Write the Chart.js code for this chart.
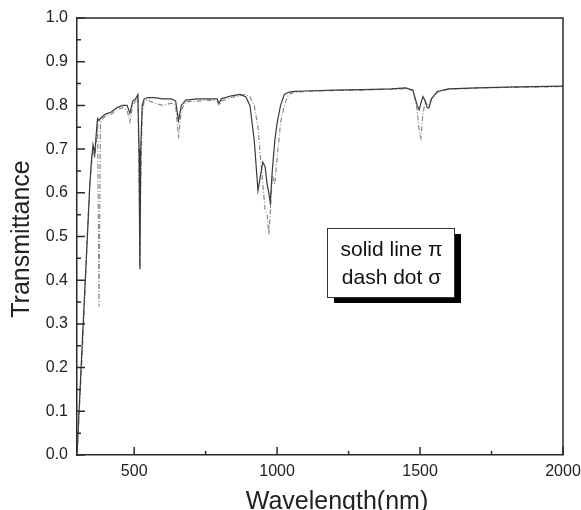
<!DOCTYPE html>
<html>
<head>
<meta charset="utf-8">
<script src="https://cdn.jsdelivr.net/npm/chart.js@4.4.1/dist/chart.umd.min.js"></script>
<style>
  html, body { margin: 0; padding: 0; background: #fff; }
  #wrap { width: 581px; height: 510px; }
</style>
</head>
<body>
<div id="wrap"><canvas id="chart"></canvas></div>
<script>
// 波長 (nm)
const wavelength = [300, 320, 340, 345, 350, 356, 362, 368, 372, 377, 382, 390, 400, 420, 440, 460, 475, 485, 495, 505,
  513, 517, 520, 523, 528, 535, 548, 570, 600, 630, 645, 655, 665, 680, 720, 760, 790, 797, 805, 840,
  870, 890, 905, 920, 933, 942, 950, 958, 965, 971, 976, 983, 992, 1000, 1012, 1025, 1040, 1060, 1100, 1200,
  1300, 1400, 1450, 1475, 1490, 1497, 1503, 1510, 1518, 1525, 1531, 1540, 1560, 1600, 1700, 1800, 1900, 2000];

// solid line (π)
const piT = [0.0, 0.28, 0.55, 0.62, 0.67, 0.71, 0.69, 0.74, 0.77, 0.765, 0.77, 0.775, 0.78, 0.785, 0.795, 0.80, 0.80, 0.782, 0.81, 0.815,
  0.825, 0.70, 0.425, 0.70, 0.80, 0.815, 0.818, 0.818, 0.815, 0.815, 0.81, 0.765, 0.80, 0.812, 0.815, 0.815, 0.815, 0.805, 0.815, 0.822,
  0.825, 0.82, 0.80, 0.72, 0.605, 0.64, 0.67, 0.66, 0.62, 0.60, 0.577, 0.65, 0.72, 0.76, 0.80, 0.825, 0.83, 0.832, 0.833, 0.835,
  0.836, 0.838, 0.84, 0.835, 0.80, 0.79, 0.805, 0.82, 0.81, 0.795, 0.794, 0.815, 0.832, 0.838, 0.84, 0.842, 0.843, 0.844];

// dash dot (σ)
const sigmaT = [0.0, 0.25, 0.56, 0.62, 0.66, 0.70, 0.68, 0.72, 0.77, 0.34, 0.76, 0.77, 0.775, 0.78, 0.79, 0.795, 0.79, 0.762, 0.80, 0.81,
  0.82, 0.65, 0.43, 0.62, 0.78, 0.81, 0.812, 0.805, 0.80, 0.805, 0.80, 0.725, 0.79, 0.808, 0.81, 0.812, 0.81, 0.80, 0.81, 0.818,
  0.822, 0.825, 0.82, 0.80, 0.75, 0.68, 0.62, 0.56, 0.55, 0.505, 0.55, 0.64, 0.62, 0.68, 0.76, 0.80, 0.825, 0.83, 0.832, 0.834,
  0.835, 0.837, 0.838, 0.835, 0.79, 0.74, 0.725, 0.78, 0.81, 0.80, 0.80, 0.815, 0.83, 0.837, 0.84, 0.841, 0.842, 0.843];

const xTicks = [500, 1000, 1500, 2000];
const yTicks = [0, 0.1, 0.2, 0.3, 0.4, 0.5, 0.6, 0.7, 0.8, 0.9, 1.0];
const legendLines = ['solid line \u03c0', 'dash dot \u03c3'];
const xTitle = 'Wavelength(nm)';
const yTitle = 'Transmittance';

const AXIS = '#2a2a2a';
const FONT = 'Arial, "Liberation Sans", sans-serif';

// 內向刻度 + 上/右框線 + 軸標題 + 圖例方塊
const framePlugin = {
  id: 'frame',
  afterDraw(chart) {
    const { ctx, chartArea: a, scales: { x, y } } = chart;
    ctx.save();
    ctx.strokeStyle = AXIS;
    ctx.lineWidth = 1.5;
    ctx.beginPath();
    ctx.moveTo(a.left, a.top); ctx.lineTo(a.right, a.top); ctx.lineTo(a.right, a.bottom);
    ctx.stroke();

    ctx.beginPath();
    xTicks.forEach(v => {
      const px = x.getPixelForValue(v);
      ctx.moveTo(px, a.bottom); ctx.lineTo(px, a.bottom - 8);
      const mid = x.getPixelForValue(v - 250);
      if (v - 250 > x.min) { ctx.moveTo(mid, a.bottom); ctx.lineTo(mid, a.bottom - 4); }
    });
    yTicks.forEach(v => {
      const py = y.getPixelForValue(v);
      ctx.moveTo(a.left, py); ctx.lineTo(a.left + 8, py);
      if (v > 0) {
        const mid = y.getPixelForValue(v - 0.05);
        ctx.moveTo(a.left, mid); ctx.lineTo(a.left + 4, mid);
      }
    });
    ctx.stroke();

    // axis titles
    ctx.fillStyle = '#222';
    ctx.font = '25px ' + FONT;
    ctx.textAlign = 'center';
    ctx.textBaseline = 'alphabetic';
    ctx.fillText(xTitle, 337, 509);
    ctx.save();
    ctx.translate(29, 239);
    ctx.rotate(-Math.PI / 2);
    ctx.fillText(yTitle, 0, 0);
    ctx.restore();

    // legend box with shadow
    const bx = 327, by = 228, bw = 127, bh = 69;
    ctx.fillStyle = '#000';
    ctx.fillRect(bx + 7, by + 6, bw, bh);
    ctx.fillStyle = '#fff';
    ctx.fillRect(bx, by, bw, bh);
    ctx.strokeStyle = '#333';
    ctx.lineWidth = 1;
    ctx.strokeRect(bx + 0.5, by + 0.5, bw, bh);
    ctx.fillStyle = '#111';
    ctx.font = '21px ' + FONT;
    ctx.fillText(legendLines[0], bx + bw / 2 + 1, by + 28);
    ctx.fillText(legendLines[1], bx + bw / 2 + 1, by + 56);
    ctx.restore();
  }
};

new Chart(document.getElementById('chart'), {
  type: 'line',
  data: {
    labels: wavelength,
    datasets: [
      {
        label: 'π',
        data: wavelength.map((w, i) => ({ x: w, y: piT[i] })),
        borderColor: '#3a3a3a',
        borderWidth: 1.2,
        pointRadius: 0,
        tension: 0
      },
      {
        label: 'σ',
        data: wavelength.map((w, i) => ({ x: w, y: sigmaT[i] })),
        borderColor: '#8a8a8a',
        borderWidth: 1.2,
        borderDash: [5, 2, 1, 2],
        pointRadius: 0,
        tension: 0
      }
    ]
  },
  options: {
    responsive: true,
    maintainAspectRatio: false,
    animation: false,
    layout: { padding: { top: 18, right: 18, left: 0, bottom: 0 } },
    plugins: { legend: { display: false }, tooltip: { enabled: false } },
    scales: {
      x: {
        type: 'linear',
        min: 300,
        max: 2000,
        afterBuildTicks: s => { s.ticks = xTicks.map(v => ({ value: v })); },
        afterFit: s => { s.height = 55; s.paddingLeft = 0; s.paddingRight = 0; },
        grid: { display: false, drawTicks: false },
        border: { display: true, color: AXIS, width: 1.5 },
        ticks: { color: '#222', font: { family: FONT, size: 16 }, padding: 7, maxRotation: 0, callback: v => String(v) }
      },
      y: {
        type: 'linear',
        min: 0,
        max: 1,
        afterBuildTicks: s => { s.ticks = yTicks.map(v => ({ value: v })); },
        afterFit: s => { s.width = 77; s.paddingTop = 0; s.paddingBottom = 0; },
        grid: { display: false, drawTicks: false },
        border: { display: true, color: AXIS, width: 1.5 },
        ticks: { color: '#222', font: { family: FONT, size: 16 }, padding: 9, callback: v => v.toFixed(1) }
      }
    }
  },
  plugins: [framePlugin]
});
</script>
</body>
</html>
